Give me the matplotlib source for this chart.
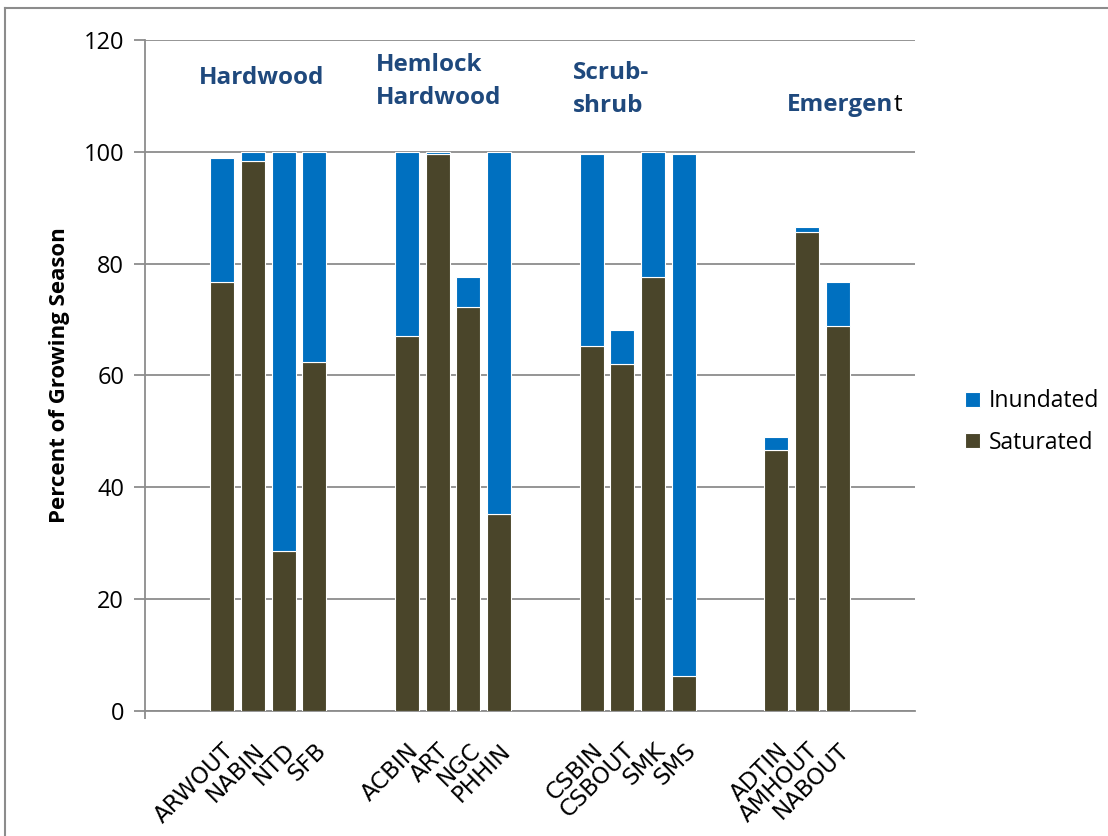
import matplotlib.pyplot as plt
import numpy as np
from matplotlib.lines import Line2D

# 各样点生长季内饱和 / 淹水时间比例 (%)
sites = ['ARWOUT', 'NABIN', 'NTD', 'SFB',
         'ACBIN', 'ART', 'NGC', 'PHHIN',
         'CSBIN', 'CSBOUT', 'SMK', 'SMS',
         'ADTIN', 'AMHOUT', 'NABOUT']
saturated = [76.7, 98.4, 28.6, 62.4,
             67.1, 99.6, 72.2, 35.2,
             65.3, 62.1, 77.6, 6.3,
             46.7, 85.7, 68.8]
inundated = [22.2, 1.6, 71.4, 37.6,
             32.9, 0.4, 5.4, 64.8,
             34.4, 6.0, 22.4, 93.3,
             2.3, 0.9, 7.9]
groups = ['Hardwood', 'Hemlock\nHardwood', 'Scrub-\nshrub', 'Emergen']
group_size = [4, 4, 4, 3]

# 位置: 每组之间空两格, 两端也各空两格
pos = []
p = 2
for n in group_size:
    pos += list(range(p, p + n))
    p += n + 2
pos = np.array(pos)
nslot = p

plt.rcParams['font.family'] = ['Open Sans', 'DejaVu Sans']
blue = '#0070C0'
brown = '#4A452A'
title_color = '#1F497D'

fig = plt.figure(figsize=(11.08, 8.36), dpi=100)
ax = fig.add_axes([145 / 1108, 1 - 711 / 836, 770 / 1108, 671 / 836])

b1 = ax.bar(pos, saturated, width=0.78, color=brown, edgecolor='white', linewidth=0.8,
            label='Saturated', zorder=3)
b2 = ax.bar(pos, inundated, width=0.78, bottom=saturated, color=blue, edgecolor='white',
            linewidth=0.8, label='Inundated', zorder=3)

ax.set_xlim(-0.5, nslot - 0.5)
ax.set_ylim(0, 120)
ax.set_yticks(np.arange(0, 121, 20))
ax.yaxis.grid(True, color='#8c8c8c', linewidth=1.3, zorder=0)
for s in ['top', 'right']:
    ax.spines[s].set_visible(False)
for s in ['left', 'bottom']:
    ax.spines[s].set_color('#8c8c8c')
    ax.spines[s].set_linewidth(1.3)
ax.tick_params(axis='y', length=8, width=1.3, color='#8c8c8c', pad=7, labelsize=17)
ax.set_xticks(pos)
ax.set_xticklabels(sites, rotation=45, ha='right', rotation_mode='anchor',
                   family='DejaVu Sans', fontsize=16.5)
ax.tick_params(axis='x', length=0, pad=20)
ax.set_xticks([-0.5], minor=True)
ax.tick_params(axis='x', which='minor', length=6, width=1.3, color='#8c8c8c')

ax.set_ylabel('Percent of Growing Season', fontsize=16, fontweight='bold', labelpad=10)

# 组名
ax.text(3.27, 113.2, groups[0], color=title_color, fontsize=17.5, fontweight='bold',
        ha='center', va='center')
ax.text(7.0, 112.5, groups[1], color=title_color, fontsize=17.5, fontweight='bold',
        ha='left', va='center', linespacing=1.5)
ax.text(13.4, 111.2, groups[2], color=title_color, fontsize=17.5, fontweight='bold',
        ha='left', va='center', linespacing=1.5)
em = ax.text(20.34, 107.3, groups[3], color=title_color, fontsize=17.5, fontweight='bold',
             ha='left', va='baseline')
fig.canvas.draw()
bb = em.get_window_extent()
tx = ax.transData.inverted().transform((bb.x1, 0))[0]
ax.text(tx, 107.3, 't', color='black', fontsize=17.5, ha='left', va='baseline')

ax.legend([b2, b1], ['Inundated', 'Saturated'], loc='center left',
          bbox_to_anchor=(944 / 1108, 1 - 422 / 836), bbox_transform=fig.transFigure,
          frameon=False, fontsize=16.5, handlelength=0.65, handleheight=0.65,
          labelspacing=0.75, handletextpad=0.4)

# 外框 (左、上)
fig.add_artist(Line2D([5 / 1108, 5 / 1108], [0, 1 - 8 / 836], color='#8c8c8c',
                      linewidth=1.5, transform=fig.transFigure))
fig.add_artist(Line2D([5 / 1108, 1], [1 - 8 / 836, 1 - 8 / 836], color='#8c8c8c',
                      linewidth=1.5, transform=fig.transFigure))

plt.savefig('out.png', dpi=100)
